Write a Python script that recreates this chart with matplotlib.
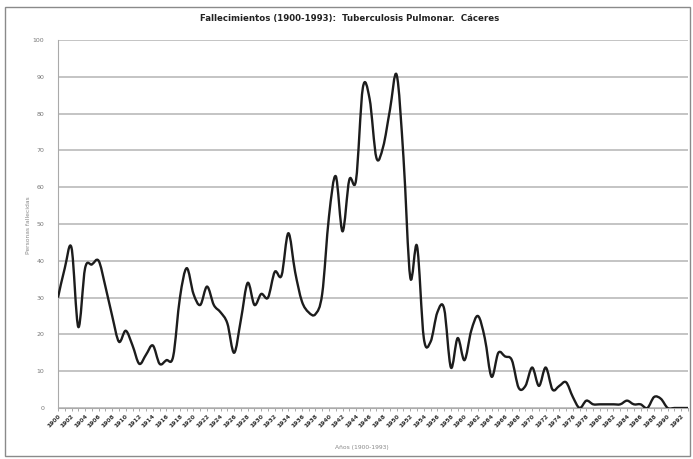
import numpy as np
import matplotlib.pyplot as plt
from matplotlib.path import Path
from matplotlib.patches import PathPatch, Rectangle

# Data: deaths per year
years = list(range(1900, 1994))
deaths = [30, 38, 43.5, 22, 38, 39, 40, 33, 25, 18,
          21, 17, 12, 14.5, 17, 12, 13, 14, 30, 38,
          31, 28, 33, 28, 26, 23, 15, 24, 34, 28,
          31, 30, 37, 36, 47.5, 37, 29, 26, 25.5, 31,
          52, 63, 48, 62, 62, 87, 84, 68, 71, 81,
          90.5, 68, 35.5, 44, 19, 18, 26, 27, 11, 19,
          13, 21, 25, 19, 8.5, 15, 14, 13, 5.5, 6,
          11, 6, 11, 5, 6, 7, 3, 0, 2, 1,
          1, 1, 1, 1, 2, 1, 1, 0, 3, 2.5,
          0, 0, 0, 0]
y_ticks = list(range(0, 101, 10))
x_label_years = years[::2]

title = "Fallecimientos (1900-1993):  Tuberculosis Pulmonar.  Cáceres"
ylabel = "Personas fallecidas"
xlabel = "Años (1900-1993)"


def smooth_path(x, y):
    # Catmull-Rom through the points, written as cubic bezier segments
    pts = np.column_stack([x, y]).astype(float)
    ext = np.vstack([pts[0], pts, pts[-1]])
    verts = [pts[0]]
    codes = [Path.MOVETO]
    for i in range(1, len(ext) - 2):
        p0, p1, p2, p3 = ext[i - 1], ext[i], ext[i + 1], ext[i + 2]
        verts += [p1 + (p2 - p0) / 6, p2 - (p3 - p1) / 6, p2]
        codes += [Path.CURVE4] * 3
    return Path(verts, codes)


W, H = 693, 459
fig = plt.figure(figsize=(W / 100, H / 100), dpi=100)
ax = fig.add_axes([58 / W, (H - 408) / H, 630 / W, 368 / H])

ax.set_xlim(years[0], years[-1])
ax.set_ylim(0, 100)

ax.add_patch(PathPatch(smooth_path(years, deaths), facecolor='none',
                       edgecolor='#1c1c1c', lw=1.7, joinstyle='round',
                       zorder=3))

ax.set_yticks(y_ticks)
ax.set_yticklabels([str(v) for v in y_ticks], fontsize=4.5, color='#777777')
ax.set_xticks(x_label_years)
ax.set_xticklabels([str(v) for v in x_label_years], fontsize=4.3,
                   rotation=45, ha='right', rotation_mode='anchor',
                   color='#333333', fontweight='bold')
ax.set_xticks(years, minor=True)
ax.tick_params(axis='x', which='both', length=2, width=0.6, color='#999999',
               pad=2)
ax.tick_params(axis='y', length=0, pad=10)

ax.grid(axis='y', color='#b4b4b4', lw=1.1)
ax.set_axisbelow(True)
for s in ['top', 'right']:
    ax.spines[s].set_visible(False)
ax.spines['left'].set_color('#aaaaaa')
ax.spines['bottom'].set_color('#aaaaaa')

fig.text(350 / W, 1 - 19 / H, title, ha='center', va='center',
         fontsize=6.2, fontweight='bold', color='#222222')
fig.text(28 / W, 1 - 225 / H, ylabel, rotation=90, ha='center',
         va='center', fontsize=4.3, color='#888888')
fig.text(362 / W, 1 - 447 / H, xlabel, ha='center', va='center',
         fontsize=4.3, color='#888888')

fig.patches.append(Rectangle((5 / W, 3 / H), 685 / W, 449 / H,
                             transform=fig.transFigure, fill=False,
                             edgecolor='#8a8a8a', lw=1.0))

fig.savefig('out.png', dpi=100)
